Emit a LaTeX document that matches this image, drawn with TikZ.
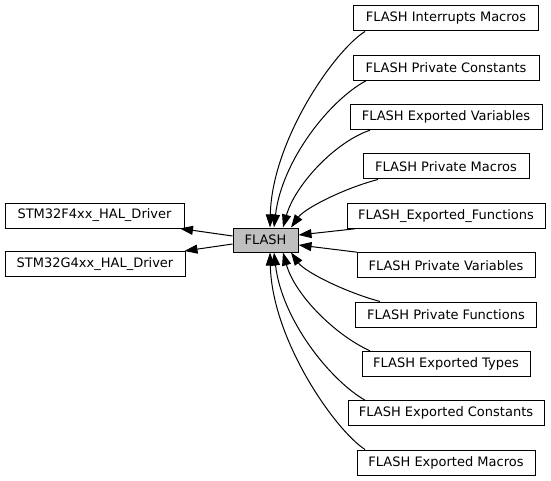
\documentclass[tikz,border=0pt]{standalone}
\usepackage{fontspec}
\setmainfont{DejaVu Sans}
\usetikzlibrary{arrows.meta}
\definecolor{flashgray}{HTML}{BFBFBF}
\tikzset{
  gbox/.style={draw=black, line width=1pt, minimum height=25pt, inner sep=0pt, fill=white},
  arr/.style={draw=black, line width=1pt, -{Triangle[length=13pt,width=9pt]}},
}
\begin{document}
\begin{tikzpicture}[x=1pt,y=1pt,font=\fontsize{13}{15}\selectfont]
\useasboundingbox (0,0) rectangle (551,480);
% center node
\node[gbox, fill=flashgray, minimum width=65pt, minimum height=24pt] (flash) at (265.5,240) {FLASH};
% left nodes
\node[gbox, minimum width=179pt] (f4) at (94.5,264.5) {STM32F4xx\_HAL\_Driver};
\node[gbox, minimum width=180pt] (g4) at (95,216) {STM32G4xx\_HAL\_Driver};
% right nodes
\node[gbox, minimum width=185pt] (r1) at (446,461.5) {FLASH Interrupts Macros};
\node[gbox, minimum width=186pt] (r2) at (446,412.2) {FLASH Private Constants};
\node[gbox, minimum width=192pt] (r3) at (446,362.8) {FLASH Exported Variables};
\node[gbox, minimum width=166pt] (r4) at (446,313.5) {FLASH Private Macros};
\node[gbox, minimum width=198pt] (r5) at (446,264.2) {FLASH\_Exported\_Functions};
\node[gbox, minimum width=178pt] (r6) at (446,214.8) {FLASH Private Variables};
\node[gbox, minimum width=181pt] (r7) at (446,165.5) {FLASH Private Functions};
\node[gbox, minimum width=168pt] (r8) at (446,116.2) {FLASH Exported Types};
\node[gbox, minimum width=196pt] (r9) at (446,66.8) {FLASH Exported Constants};
\node[gbox, minimum width=178pt] (r10) at (446,17.5) {FLASH Exported Macros};
% left edges
\draw[arr] ([yshift=4pt]flash.west) -- ([xshift=85.5pt]f4.south);
\draw[arr] ([yshift=-4pt]flash.west) -- ([xshift=-1pt]g4.north east);
% right edges (top)
\draw[arr] ([xshift=-81pt]r1.south) .. controls (335,430) and (272,340) .. ([xshift=4.5pt]flash.north);
\draw[arr] ([xshift=-80pt]r2.south) .. controls (330,380) and (282,320) .. ([xshift=8.5pt]flash.north);
\draw[arr] ([xshift=-76pt]r3.south) .. controls (335,338) and (295,295) .. ([xshift=17.5pt]flash.north);
\draw[arr] ([xshift=-68pt]r4.south) .. controls (345,292) and (305,272) .. ([xshift=25.5pt]flash.north);
\draw[arr] ([xshift=-91pt]r5.south) -- ([yshift=5pt]flash.east);
\draw[arr] ([xshift=-89pt]r6.north) -- ([yshift=-5pt]flash.east);
% right edges (bottom)
\draw[arr] ([xshift=-66pt]r7.north) .. controls (345,188) and (305,208) .. ([xshift=25.5pt]flash.south);
\draw[arr] ([xshift=-76pt]r8.north) .. controls (335,145) and (295,185) .. ([xshift=17.5pt]flash.south);
\draw[arr] ([xshift=-81pt]r9.north) .. controls (330,100) and (282,160) .. ([xshift=8.5pt]flash.south);
\draw[arr] ([xshift=-81pt]r10.north) .. controls (335,50) and (272,140) .. ([xshift=4.5pt]flash.south);
\end{tikzpicture}
\end{document}
